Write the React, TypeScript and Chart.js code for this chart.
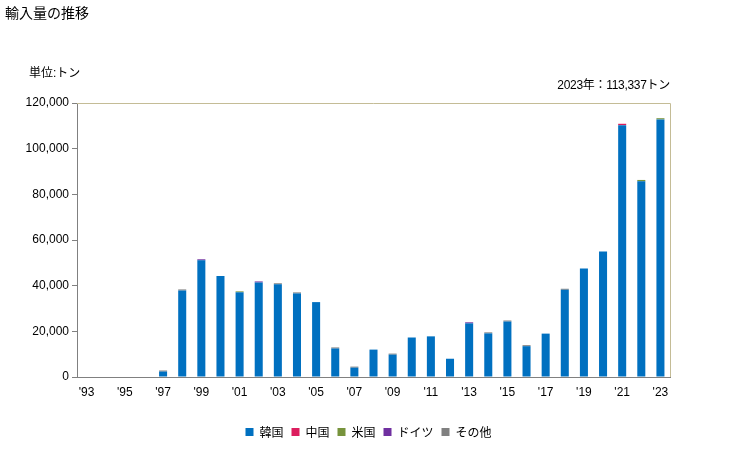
import React, { useEffect, useRef } from "react";
import { Chart, registerables } from "chart.js";

Chart.register(...registerables);

const years = [
  "1993", "1994", "1995", "1996", "1997", "1998", "1999", "2000", "2001", "2002",
  "2003", "2004", "2005", "2006", "2007", "2008", "2009", "2010", "2011", "2012",
  "2013", "2014", "2015", "2016", "2017", "2018", "2019", "2020", "2021", "2022", "2023",
];

const korea = [
  0, 0, 0, 0, 2400, 37900, 51100, 44200, 37100, 41400,
  40600, 36600, 32800, 12500, 4100, 12000, 9800, 17300, 17800, 8000,
  23500, 19100, 24300, 13500, 19000, 38200, 47500, 55000, 110300, 85700, 112800,
];
const china = [
  0, 0, 0, 0, 0, 0, 0, 0, 0, 0,
  0, 0, 0, 0, 0, 0, 0, 0, 0, 0,
  0, 0, 0, 0, 0, 0, 0, 0, 600, 0, 0,
];
const usa = [
  0, 0, 0, 0, 0, 0, 0, 0, 400, 0,
  0, 0, 0, 0, 0, 0, 0, 0, 0, 0,
  0, 0, 0, 0, 0, 0, 0, 0, 0, 600, 537,
];
const germany = [
  0, 0, 0, 0, 0, 0, 450, 0, 0, 450,
  0, 0, 0, 0, 0, 0, 0, 0, 0, 0,
  450, 0, 0, 0, 0, 0, 0, 0, 0, 0, 0,
];
const others = [
  0, 0, 0, 0, 450, 450, 0, 0, 0, 0,
  450, 450, 0, 450, 450, 0, 450, 0, 0, 0,
  0, 450, 450, 450, 0, 450, 0, 0, 0, 0, 0,
];

const seriesNames = ["韓国", "中国", "米国", "ドイツ", "その他"];
const seriesColors = ["#0070C0", "#DC1E5E", "#77933C", "#7030A0", "#808080"];

const FONT = '"Liberation Sans", "Noto Sans CJK JP", sans-serif';
const JP_FONT = '"Noto Sans CJK JP", sans-serif';

const frameBorder = {
  id: "frameBorder",
  afterDraw(chart: any) {
    const { ctx, chartArea } = chart;
    ctx.save();
    ctx.strokeStyle = "#C4BC96";
    ctx.lineWidth = 1;
    ctx.beginPath();
    ctx.moveTo(chartArea.left, chartArea.top + 0.5);
    ctx.lineTo(chartArea.right + 0.5, chartArea.top + 0.5);
    ctx.lineTo(chartArea.right + 0.5, chartArea.bottom);
    ctx.stroke();
    ctx.restore();
  },
};

// centre the legend under the plot area rather than the whole canvas
const legendShift = {
  id: "legendShift",
  afterLayout(chart: any) {
    const lg = chart.legend;
    if (!lg) return;
    const ca = chart.chartArea;
    const target = (ca.left + ca.right) / 2 - 5;
    const cur = (lg.left + lg.right) / 2;
    const d = target - cur;
    lg.left += d;
    lg.right += d;
  },
};

export default function App() {
  const ref = useRef<HTMLCanvasElement>(null);

  useEffect(() => {
    if (!ref.current) return;
    const all = [korea, china, usa, germany, others];
    const chart = new Chart(ref.current, {
      type: "bar",
      data: {
        labels: years,
        datasets: all.map((d, i) => ({
          label: seriesNames[i],
          data: d,
          backgroundColor: seriesColors[i],
          borderWidth: 0,
          barPercentage: 0.42,
          categoryPercentage: 1,
        })),
      },
      options: {
        animation: false,
        responsive: false,
        maintainAspectRatio: false,
        layout: { padding: { left: 0, right: 59, top: 103, bottom: 2 } },
        plugins: {
          legend: {
            position: "bottom",
            labels: {
              boxWidth: 8,
              boxHeight: 8,
              padding: 8,
              color: "#000",
              font: { family: JP_FONT, size: 12 },
            },
          },
          tooltip: { enabled: false },
        },
        scales: {
          x: {
            stacked: true,
            grid: { display: false, drawTicks: false },
            border: { display: true, color: "#808080", width: 1 },
            ticks: {
              autoSkip: false,
              maxRotation: 0,
              padding: 8,
              color: "#000",
              font: { family: FONT, size: 12 },
              callback: (_v: any, i: number) => (i % 2 === 0 ? "'" + years[i].slice(2) : ""),
            },
            afterFit: (s: any) => {
              s.height = 41;
            },
          },
          y: {
            stacked: true,
            min: 0,
            max: 120000,
            ticks: {
              stepSize: 20000,
              padding: 3,
              color: "#000",
              font: { family: FONT, size: 12 },
              callback: (v: any) => Number(v).toLocaleString("en-US"),
            },
            grid: { drawOnChartArea: false, tickLength: 5, color: "#808080" },
            border: { display: true, color: "#808080" },
            afterFit: (s: any) => {
              s.width = 77;
            },
          },
        },
      },
      plugins: [frameBorder, legendShift],
    });
    return () => chart.destroy();
  }, []);

  const textStyle: React.CSSProperties = {
    position: "absolute",
    fontFamily: FONT,
    color: "#000",
    whiteSpace: "nowrap",
    lineHeight: 1,
  };

  return (
    <div style={{ position: "absolute", left: 0, top: 0, width: 729, height: 450, background: "#fff" }}>
      <canvas ref={ref} width={729} height={450} style={{ position: "absolute", left: 0, top: 0 }} />
      <div style={{ ...textStyle, left: 5, top: 6, fontSize: 14 }}>輸入量の推移</div>
      <div style={{ ...textStyle, left: 29, top: 67, fontSize: 12 }}>単位:トン</div>
      <div style={{ ...textStyle, right: 59, top: 79, fontSize: 12, letterSpacing: -0.3 }}>2023年：113,337トン</div>
    </div>
  );
}
